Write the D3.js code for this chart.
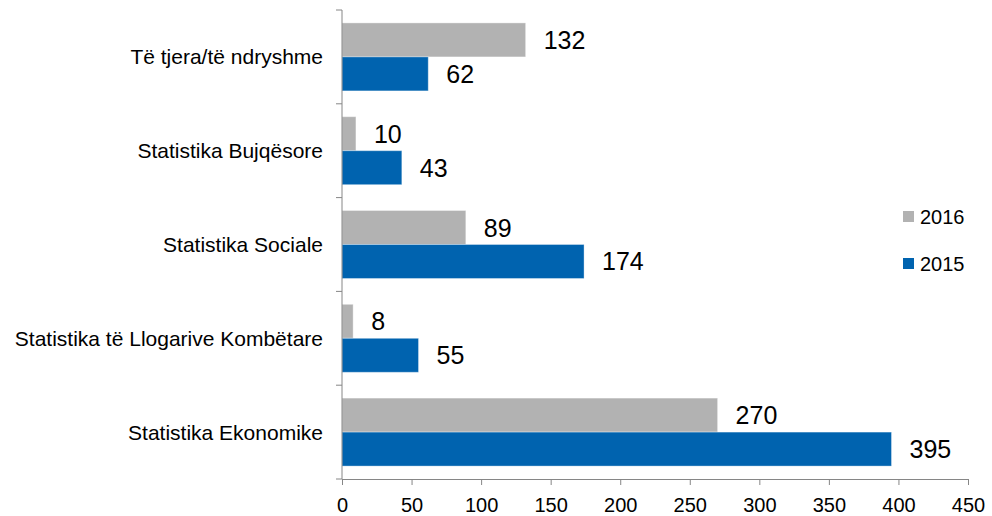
<!DOCTYPE html>
<html>
<head>
<meta charset="utf-8">
<script src="https://cdn.jsdelivr.net/npm/d3@7"></script>
<style>
	body { margin: 0; background: #fff; }
	svg text { font-family: "Liberation Sans", Arial, sans-serif; fill: #000; }
</style>
</head>
<body>
<svg id="chart" width="992" height="516"></svg>
<script>
// categories top -> bottom
var categories = ["Të tjera/të ndryshme", "Statistika Bujqësore", "Statistika Sociale",
	"Statistika të Llogarive Kombëtare", "Statistika Ekonomike"];
var seriesNames = ["2016", "2015"];
var values2016 = [132, 10, 89, 8, 270];
var values2015 = [62, 43, 174, 55, 395];
var xTicks = [0, 50, 100, 150, 200, 250, 300, 350, 400, 450];
var colors = ["#b2b2b2", "#0063af"];

var svg = d3.select("#chart");
var margin = { top: 10, left: 342, right: 24, bottom: 37 };
var width = 992 - margin.left - margin.right,
	height = 516 - margin.top - margin.bottom;

var g = svg.append("g")
	.attr("transform", "translate(" + margin.left + "," + margin.top + ")");

var x = d3.scaleLinear().domain([0, 450]).range([0, width]);
var y0 = d3.scaleBand().domain(categories).range([0, height]);
var y1 = d3.scaleBand().domain(seriesNames).range([0, y0.bandwidth()])
	.paddingInner(0).paddingOuter(0.38);

var rows = categories.map(function(c, i) {
	return { cat: c, vals: [values2016[i], values2015[i]] };
});

var grp = g.selectAll(".cat").data(rows).enter()
	.append("g").attr("class", "cat")
	.attr("transform", function(d) { return "translate(0," + y0(d.cat) + ")"; });

grp.selectAll("rect").data(function(d) {
		return d.vals.map(function(v, j) { return { s: seriesNames[j], v: v, j: j }; });
	}).enter()
	.append("rect")
	.attr("x", 0)
	.attr("y", function(d) { return y1(d.s); })
	.attr("width", function(d) { return x(d.v); })
	.attr("height", y1.bandwidth())
	.attr("fill", function(d) { return colors[d.j]; })
	.attr("stroke", "#ffffff")
	.attr("stroke-opacity", 0.35)
	.attr("stroke-width", 1);

grp.selectAll("text.val").data(function(d) {
		return d.vals.map(function(v, j) { return { s: seriesNames[j], v: v }; });
	}).enter()
	.append("text").attr("class", "val")
	.attr("x", function(d) { return x(d.v) + 18; })
	.attr("y", function(d) { return y1(d.s) + y1.bandwidth() / 2; })
	.attr("dy", "0.36em")
	.style("font-size", "25px")
	.text(function(d) { return d.v; });

// x axis
var xAxis = g.append("g")
	.attr("transform", "translate(0," + height + ")")
	.call(d3.axisBottom(x).tickValues(xTicks).tickSize(6).tickSizeOuter(0).tickPadding(13));
xAxis.selectAll("text").style("font-size", "20px").attr("fill", "#000");

// y axis with ticks at band edges
var yAxis = g.append("g");
yAxis.append("line")
	.attr("x1", 0).attr("x2", 0).attr("y1", 0).attr("y2", height)
	.attr("stroke", "#868686");
var edges = categories.map(function(c) { return y0(c); }).concat([height]);
yAxis.selectAll("line.tk").data(edges).enter()
	.append("line").attr("class", "tk")
	.attr("x1", -6).attr("x2", 0)
	.attr("y1", function(d) { return d; }).attr("y2", function(d) { return d; })
	.attr("stroke", "#868686");
yAxis.selectAll("text").data(categories).enter()
	.append("text")
	.attr("x", -19)
	.attr("y", function(d) { return y0(d) + y0.bandwidth() / 2; })
	.attr("dy", "0.36em")
	.attr("text-anchor", "end")
	.style("font-size", "21px")
	.text(function(d) { return d; });

xAxis.selectAll("path, line").attr("stroke", "#868686");

// legend
var legend = svg.append("g").attr("transform", "translate(903,211)");
var li = legend.selectAll("g").data(seriesNames).enter()
	.append("g")
	.attr("transform", function(d, i) { return "translate(0," + i * 47 + ")"; });
li.append("rect").attr("width", 11).attr("height", 11)
	.attr("fill", function(d, i) { return colors[i]; });
li.append("text").attr("x", 17).attr("y", 5.5).attr("dy", "0.36em")
	.style("font-size", "20px")
	.text(function(d) { return d; });
</script>
</body>
</html>
